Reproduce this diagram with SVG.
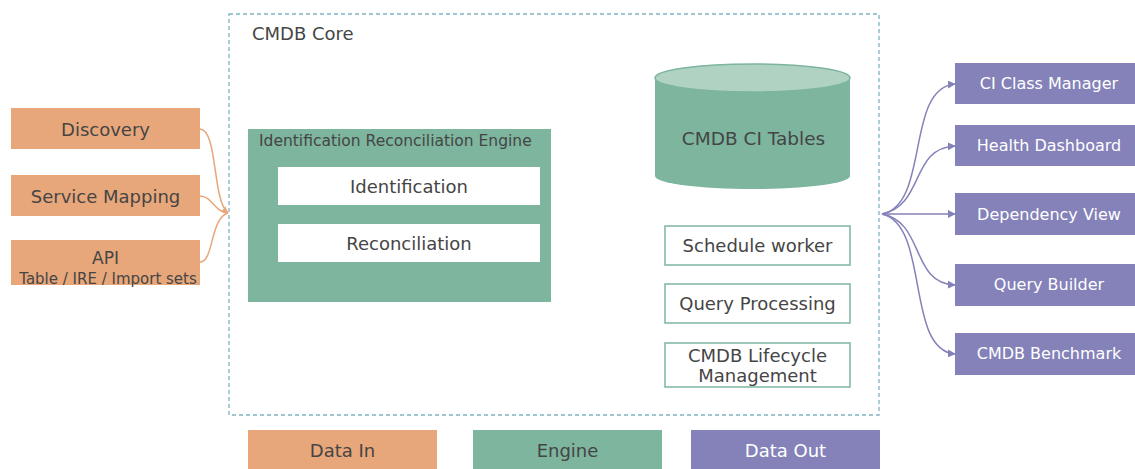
<svg xmlns="http://www.w3.org/2000/svg" width="1135" height="469" viewBox="0 0 1135 469">
<style>
text{font-family:"DejaVu Sans","Liberation Sans",sans-serif;fill:#454545;text-anchor:middle;dominant-baseline:central}
.in{fill:#e8a77a}
.eng{fill:#7db59e}
.out{fill:#8482b9}
.out-t{fill:#ffffff}
.wbox{fill:#ffffff}
.obox{fill:#ffffff;stroke:#7db59e;stroke-width:1.5}
.cin{fill:none;stroke:#e8a77a;stroke-width:1.5}
.cout{fill:none;stroke:#8482b9;stroke-width:1.5}
</style>
<defs>
<marker id="ao" viewBox="0 0 10 10" refX="9" refY="5" markerWidth="7" markerHeight="7" orient="auto" markerUnits="userSpaceOnUse"><path d="M0,0L10,5L0,10z" fill="#e8a77a"/></marker>
<marker id="ap" viewBox="0 0 10 10" refX="9" refY="5" markerWidth="8" markerHeight="8" orient="auto" markerUnits="userSpaceOnUse"><path d="M0,0L10,5L0,10z" fill="#8482b9"/></marker>
</defs>
<rect width="1135" height="469" fill="#ffffff"/>
<g id="core">
<rect x="229" y="14" width="650" height="401" fill="none" stroke="#7fb2c1" stroke-width="1.3" stroke-dasharray="4,3"/>
<text x="252" y="33" style="text-anchor:start;font-size:18px">CMDB Core</text>
</g>
<g id="discovery"><rect class="in" x="11" y="108" width="189" height="41"/><text x="105.5" y="129" font-size="18">Discovery</text></g>
<g id="service-mapping"><rect class="in" x="11" y="175" width="189" height="41"/><text x="105.5" y="196" font-size="18">Service Mapping</text></g>
<g id="api"><rect class="in" x="11" y="240" width="189" height="45"/><text x="105.5" y="258" font-size="17">API</text><text x="108" y="278.5" font-size="15">Table / IRE / Import sets</text></g>
<g id="ire">
<rect class="eng" x="248" y="129" width="303" height="173"/>
<text x="259" y="141" style="text-anchor:start;font-size:15.5px">Identification Reconciliation Engine</text>
</g>
<g id="identification"><rect class="wbox" x="278" y="167" width="262" height="38"/><text x="409" y="186" font-size="18">Identification</text></g>
<g id="reconciliation"><rect class="wbox" x="278" y="224" width="262" height="38"/><text x="409" y="243" font-size="18">Reconciliation</text></g>
<g id="ci-tables">
<path class="eng" d="M655,78 L655,176 A97.5,13 0 0 0 850,176 L850,78 Z"/>
<ellipse cx="752.5" cy="78" rx="97.5" ry="14" fill="#b0d2c3" stroke="#7db59e" stroke-width="1.5"/>
<text x="753.5" y="138" font-size="18.5">CMDB CI Tables</text>
</g>
<g id="schedule-worker"><rect class="obox" x="665" y="226" width="185" height="39"/><text x="757.5" y="245" font-size="18">Schedule worker</text></g>
<g id="query-processing"><rect class="obox" x="665" y="284" width="185" height="39"/><text x="757.5" y="303" font-size="18">Query Processing</text></g>
<g id="lifecycle"><rect class="obox" x="665" y="343" width="185" height="44"/><text x="757.5" y="355" font-size="18">CMDB Lifecycle</text><text x="757.5" y="375" font-size="18">Management</text></g>
<g id="ci-class-manager"><rect class="out" x="955" y="63" width="180" height="41"/><text class="out-t" x="1049" y="83" font-size="16">CI Class Manager</text></g>
<g id="health-dashboard"><rect class="out" x="955" y="125" width="180" height="41"/><text class="out-t" x="1049" y="145.5" font-size="16">Health Dashboard</text></g>
<g id="dependency-view"><rect class="out" x="955" y="193" width="180" height="42"/><text class="out-t" x="1049" y="214" font-size="16">Dependency View</text></g>
<g id="query-builder"><rect class="out" x="955" y="264" width="180" height="42"/><text class="out-t" x="1049" y="284.5" font-size="16">Query Builder</text></g>
<g id="cmdb-benchmark"><rect class="out" x="955" y="333" width="180" height="42"/><text class="out-t" x="1049" y="353.5" font-size="16">CMDB Benchmark</text></g>
<g id="legend-data-in"><rect class="in" x="248" y="430" width="189" height="39"/><text x="342.5" y="450" font-size="18">Data In</text></g>
<g id="legend-engine"><rect class="eng" x="473" y="430" width="189" height="39"/><text x="567.5" y="450" font-size="18">Engine</text></g>
<g id="legend-data-out"><rect class="out" x="691" y="430" width="189" height="39"/><text class="out-t" x="785.5" y="450" font-size="18">Data Out</text></g>
<g id="connectors">
<path class="cin" d="M200,129 C218,130 212,200 228,213" marker-end="url(#ao)"/>
<path class="cin" d="M200,196 C212,196 214,212 228,213"/>
<path class="cin" d="M200,262 C214,262 210,218 228,213"/>
<path class="cout" d="M882,214 C930,205 905,88 955,84" marker-end="url(#ap)"/>
<path class="cout" d="M882,214 C925,205 910,148 955,146" marker-end="url(#ap)"/>
<path class="cout" d="M882,214 L955,214" marker-end="url(#ap)"/>
<path class="cout" d="M882,214 C925,222 910,283 955,285" marker-end="url(#ap)"/>
<path class="cout" d="M882,214 C930,225 905,350 955,354" marker-end="url(#ap)"/>
</g>
</svg>
